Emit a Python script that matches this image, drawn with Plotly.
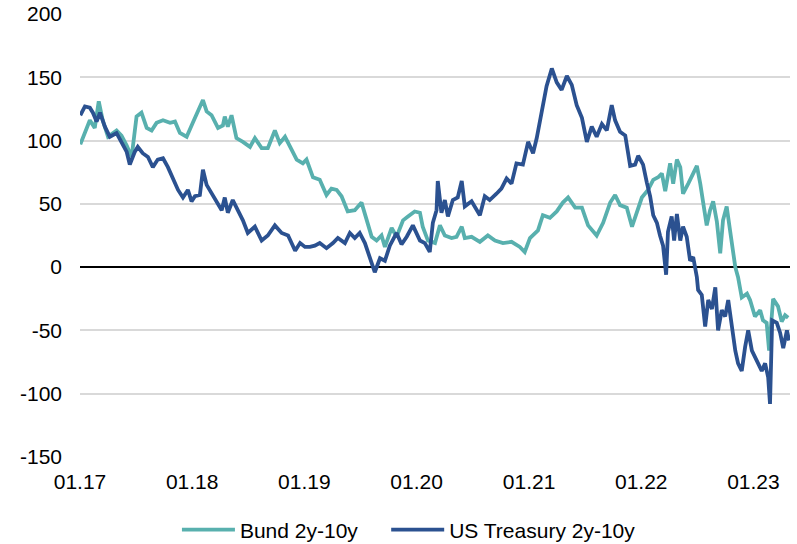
import plotly.graph_objects as go

# ---- data (basis points) ----
bund_dates = [
    "2017-01-02", "2017-01-17", "2017-02-02", "2017-02-18", "2017-03-03", "2017-03-16",
    "2017-04-02", "2017-04-30", "2017-05-16", "2017-06-02", "2017-06-18", "2017-07-04",
    "2017-07-20", "2017-08-06", "2017-08-22", "2017-09-07", "2017-09-28", "2017-10-21",
    "2017-11-06", "2017-11-22", "2017-12-14", "2018-01-03", "2018-01-26", "2018-02-05",
    "2018-02-17", "2018-03-05", "2018-03-26", "2018-04-11", "2018-04-17", "2018-04-27",
    "2018-05-09", "2018-05-25", "2018-06-15", "2018-07-08", "2018-07-24", "2018-08-15",
    "2018-09-04", "2018-09-27", "2018-10-13", "2018-10-30", "2018-11-20", "2018-12-07",
    "2018-12-27", "2019-01-08", "2019-01-29", "2019-02-20", "2019-03-14", "2019-03-30",
    "2019-04-16", "2019-05-02", "2019-05-22", "2019-06-14", "2019-07-06", "2019-07-22",
    "2019-08-08", "2019-08-24", "2019-09-09", "2019-09-20", "2019-10-12", "2019-10-28",
    "2019-11-18", "2019-12-04", "2019-12-26", "2020-01-12", "2020-01-21", "2020-02-07",
    "2020-03-01", "2020-03-17", "2020-04-02", "2020-04-24", "2020-05-10", "2020-05-27",
    "2020-06-06", "2020-06-28", "2020-07-25", "2020-08-20", "2020-09-12", "2020-10-08",
    "2020-11-05", "2020-12-02", "2020-12-18", "2021-01-04", "2021-01-30", "2021-02-15",
    "2021-03-10", "2021-04-01", "2021-04-21", "2021-05-08", "2021-05-31", "2021-06-22",
    "2021-07-12", "2021-08-09", "2021-08-30", "2021-09-22", "2021-10-08", "2021-10-24",
    "2021-11-15", "2021-12-02", "2021-12-18", "2022-01-03", "2022-01-23", "2022-02-09",
    "2022-02-25", "2022-03-09", "2022-03-20", "2022-04-05", "2022-04-15", "2022-04-27",
    "2022-05-08", "2022-05-17", "2022-06-03", "2022-06-19", "2022-07-01", "2022-07-12",
    "2022-07-21", "2022-08-02", "2022-08-13", "2022-08-23", "2022-09-04", "2022-09-15",
    "2022-09-24", "2022-10-06", "2022-10-17", "2022-10-27", "2022-11-03", "2022-11-12",
    "2022-11-24", "2022-12-11", "2022-12-21", "2023-01-06", "2023-01-23", "2023-02-01",
    "2023-02-13", "2023-02-21", "2023-03-06", "2023-03-22", "2023-04-03", "2023-04-14",
    "2023-04-24",
]
bund_values = [
    97, 107, 116, 110, 131, 116,
    103, 108, 104, 96, 87, 119,
    122, 110, 108, 114, 116, 114,
    115, 106, 103, 114, 126, 132,
    123, 120, 110, 112, 119, 111,
    120, 102, 99, 95, 102, 94,
    94, 108, 98, 103, 93, 85,
    82, 85, 71, 69, 57, 62,
    61, 56, 44, 45, 51, 37,
    24, 21, 25, 16, 31, 24,
    37, 40, 44, 43, 32, 21,
    19, 33, 25, 23, 24, 32,
    23, 24, 20, 25, 21, 19,
    20, 16, 12, 23, 29, 41,
    39, 44, 51, 55, 47, 47,
    33, 25, 35, 51, 57, 49,
    47, 32, 44, 55, 61, 69,
    71, 74, 60, 82, 66, 85,
    79, 58, 66, 74, 80, 66,
    52, 33, 45, 52, 36, 11,
    37, 48, 29, 13, 0, -8,
    -24, -21, -26, -39, -34, -42,
    -44, -66, -25, -31, -43, -38,
    -40,
]

ust_dates = [
    "2017-01-02", "2017-01-17", "2017-02-02", "2017-02-12", "2017-02-24", "2017-03-07",
    "2017-03-23", "2017-04-08", "2017-04-30", "2017-05-16", "2017-06-02", "2017-06-12",
    "2017-06-28", "2017-07-08", "2017-07-24", "2017-08-10", "2017-08-26", "2017-09-11",
    "2017-09-28", "2017-10-14", "2017-10-30", "2017-11-16", "2017-12-02", "2017-12-18",
    "2017-12-30", "2018-01-10", "2018-01-26", "2018-02-05", "2018-02-17", "2018-03-05",
    "2018-03-21", "2018-04-07", "2018-04-17", "2018-04-27", "2018-05-13", "2018-05-30",
    "2018-06-15", "2018-07-01", "2018-07-24", "2018-08-15", "2018-09-04", "2018-09-27",
    "2018-10-19", "2018-11-09", "2018-12-02", "2018-12-18", "2019-01-03", "2019-01-19",
    "2019-02-04", "2019-02-20", "2019-03-14", "2019-04-04", "2019-04-20", "2019-05-13",
    "2019-05-29", "2019-06-14", "2019-06-30", "2019-07-17", "2019-08-02", "2019-08-18",
    "2019-09-04", "2019-09-20", "2019-10-06", "2019-10-28", "2019-11-13", "2019-11-30",
    "2019-12-20", "2020-01-05", "2020-01-12", "2020-01-28", "2020-02-13", "2020-02-23",
    "2020-03-06", "2020-03-10", "2020-03-22", "2020-04-02", "2020-04-12", "2020-04-28",
    "2020-05-14", "2020-05-27", "2020-06-06", "2020-06-28", "2020-07-13", "2020-07-25",
    "2020-08-10", "2020-08-26", "2020-09-17", "2020-10-03", "2020-10-20", "2020-11-05",
    "2020-11-21", "2020-12-12", "2020-12-29", "2021-01-14", "2021-01-26", "2021-02-11",
    "2021-02-27", "2021-03-16", "2021-04-01", "2021-04-17", "2021-05-04", "2021-05-20",
    "2021-06-05", "2021-06-22", "2021-07-08", "2021-07-24", "2021-08-09", "2021-08-26",
    "2021-09-11", "2021-09-27", "2021-10-08", "2021-10-24", "2021-11-10", "2021-11-26",
    "2021-12-12", "2021-12-22", "2022-01-07", "2022-01-19", "2022-01-30", "2022-02-09",
    "2022-02-21", "2022-03-03", "2022-03-13", "2022-03-23", "2022-03-29", "2022-04-10",
    "2022-04-18", "2022-04-27", "2022-05-08", "2022-05-17", "2022-05-29", "2022-06-09",
    "2022-06-19", "2022-07-01", "2022-07-05", "2022-07-17", "2022-07-28", "2022-08-07",
    "2022-08-19", "2022-08-30", "2022-09-08", "2022-09-20", "2022-10-01", "2022-10-11",
    "2022-10-23", "2022-11-03", "2022-11-12", "2022-11-24", "2022-12-05", "2022-12-15",
    "2022-12-27", "2023-01-12", "2023-01-28", "2023-02-08", "2023-02-18", "2023-02-24",
    "2023-03-03", "2023-03-18", "2023-03-29", "2023-04-08", "2023-04-20", "2023-04-27",
]
ust_values = [
    120, 127, 126, 122, 115, 122,
    111, 103, 106, 98, 91, 81,
    91, 95, 90, 87, 79, 85,
    86, 79, 71, 61, 55, 61,
    52, 56, 57, 77, 65, 58,
    51, 45, 55, 43, 53, 45,
    37, 27, 32, 21, 25, 33,
    27, 25, 13, 19, 16, 16,
    17, 19, 15, 19, 23, 19,
    27, 23, 27, 19, 7, -4,
    7, 5, 17, 27, 18, 24,
    33, 24, 21, 19, 12, 35,
    45, 68, 43, 53, 40, 53,
    55, 68, 48, 52, 45, 41,
    56, 53, 58, 62, 70, 66,
    82, 81, 99, 90, 102, 123,
    143, 157, 146, 140, 151, 144,
    128, 118, 99, 111, 103, 113,
    108, 128, 116, 107, 104, 80,
    81, 88, 81, 67, 56, 41,
    35, 25, 17, -6, 28, 40,
    21, 42, 21, 32, 24, 5,
    8, -8, -18, -22, -47, -26,
    -33, -16, -50, -34, -39, -26,
    -50, -66, -76, -82, -63, -50,
    -66, -74, -82, -76, -87, -108,
    -42, -44, -52, -64, -50, -58,
]

series_names = ["Bund 2y-10y", "US Treasury 2y-10y"]
series_colors = ["#58B0AE", "#2B5190"]

y_ticks = [-150, -100, -50, 0, 50, 100, 150, 200]
y_tick_labels = ["-150", "-100", "-50", "0", "50", "100", "150", "200"]
x_tick_dates = ["2017-01-01", "2018-01-01", "2019-01-01", "2020-01-01",
                "2021-01-01", "2022-01-01", "2023-01-01"]
x_tick_labels = ["01.17", "01.18", "01.19", "01.20", "01.21", "01.22", "01.23"]

FONT = "Liberation Sans, Arial, sans-serif"
FS = 21
GAP = "\u00a0" * 4  # extra spacing between legend entries

fig = go.Figure()
for i, (name, dates, vals, col) in enumerate([
    (series_names[0], bund_dates, bund_values, series_colors[0]),
    (series_names[1], ust_dates, ust_values, series_colors[1]),
]):
    fig.add_trace(go.Scatter(
        x=dates, y=vals, mode="lines",
        name=name + (GAP if i == 0 else ""),
        line=dict(color=col, width=3.8),
        hoverinfo="skip",
    ))

fig.update_layout(
    width=797, height=544,
    margin=dict(l=80, r=7, t=14, b=87, autoexpand=False),
    paper_bgcolor="white", plot_bgcolor="white",
    font=dict(family=FONT, size=FS, color="#000000"),
    showlegend=True,
    legend=dict(
        orientation="h",
        xref="container", yref="container",
        x=0.222, xanchor="left", y=14 / 544, yanchor="middle",
        font=dict(family=FONT, size=FS, color="#000000"),
        itemwidth=53,
        tracegroupgap=0, bgcolor="rgba(0,0,0,0)",
    ),
    xaxis=dict(
        type="date", automargin=False,
        range=["2017-01-01", "2023-04-30"],
        tickmode="array", tickvals=x_tick_dates, ticktext=x_tick_labels,
        showgrid=False, zeroline=False, showline=False, ticks="",
        ticklabelstandoff=10,
        tickfont=dict(family=FONT, size=FS, color="#000000"),
    ),
    yaxis=dict(
        automargin=False,
        range=[-150, 200],
        tickmode="array", tickvals=y_ticks, ticktext=y_tick_labels,
        showgrid=True, gridcolor="#D9D9D9", gridwidth=1.5,
        zeroline=True, zerolinecolor="#000000", zerolinewidth=2,
        showline=False, ticks="",
        ticklabelstandoff=17,
        tickfont=dict(family=FONT, size=FS, color="#000000"),
    ),
)

fig.write_html("out.html", config={"displayModeBar": False},
               post_script="document.body.style.margin='0';")
